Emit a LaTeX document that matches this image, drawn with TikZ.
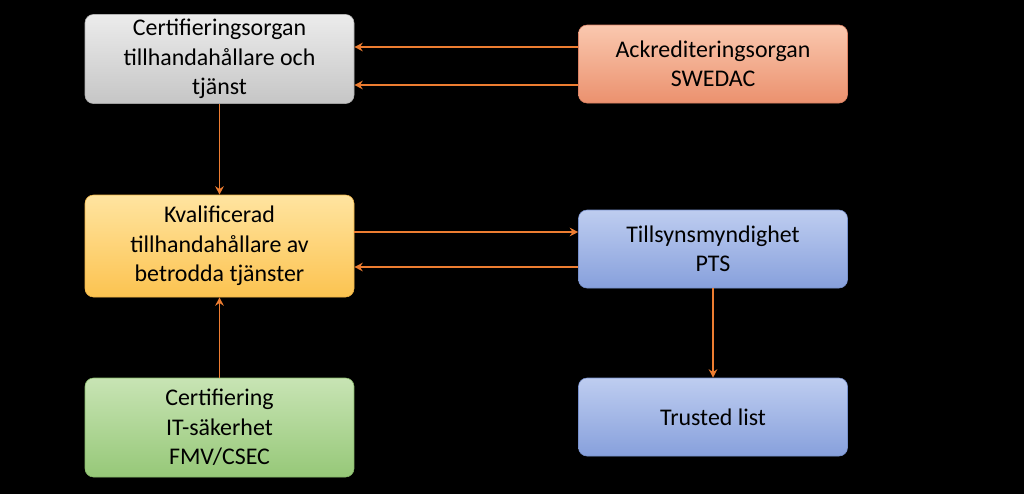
\documentclass[tikz,border=0pt]{standalone}
\usepackage{fontspec}
\setmainfont{Carlito}
\usetikzlibrary{arrows.meta}
\begin{document}
\begin{tikzpicture}[x=0.025cm,y=-0.025cm,
  box/.style={rounded corners=6pt, minimum width=269*0.025cm, align=center, font=\fontsize{17}{21}\selectfont, text=black},
  gray/.style={box, top color=gray!15, bottom color=gray!45, draw=gray!60},
  orng/.style={box, top color={rgb,255:red,250;green,200;blue,175}, bottom color={rgb,255:red,235;green,145;blue,110}, draw={rgb,255:red,220;green,130;blue,100}},
  yel/.style={box, top color={rgb,255:red,255;green,228;blue,160}, bottom color={rgb,255:red,252;green,195;blue,80}, draw={rgb,255:red,240;green,180;blue,70}},
  blu/.style={box, top color={rgb,255:red,190;green,205;blue,240}, bottom color={rgb,255:red,135;green,160;blue,220}, draw={rgb,255:red,120;green,145;blue,205}},
  grn/.style={box, top color={rgb,255:red,200;green,228;blue,180}, bottom color={rgb,255:red,150;green,200;blue,120}, draw={rgb,255:red,135;green,185;blue,105}},
  arr/.style={draw={rgb,255:red,237;green,125;blue,49}, line width=1pt, -{Stealth[length=6pt,width=6pt]}}]
\fill[black] (0,0) rectangle (1024,494);
\node[gray, minimum height=88*0.025cm] (cert) at (219.5,59) {Certifieringsorgan\\tillhandahållare och\\tjänst};
\node[orng, minimum height=78*0.025cm] (ack) at (713,64) {Ackrediteringsorgan\\SWEDAC};
\node[yel, minimum height=102*0.025cm] (kval) at (219.5,246) {Kvalificerad\\tillhandahållare av\\betrodda tjänster};
\node[blu, minimum height=78*0.025cm] (till) at (713,249) {Tillsynsmyndighet\\PTS};
\node[grn, minimum height=99*0.025cm] (it) at (219.5,427.5) {Certifiering\\IT-säkerhet\\FMV/CSEC};
\node[blu, minimum height=78*0.025cm] (tl) at (713,417) {Trusted list};
\draw[arr] (ack.west |- 0,47) -- (cert.east |- 0,47);
\draw[arr] (ack.west |- 0,85) -- (cert.east |- 0,85);
\draw[arr] (cert.south) -- (kval.north);
\draw[arr] (kval.east |- 0,232) -- (till.west |- 0,232);
\draw[arr] (till.west |- 0,267) -- (kval.east |- 0,267);
\draw[arr] (till.south) -- (tl.north);
\draw[arr] (it.north) -- (kval.south);
\end{tikzpicture}
\end{document}
